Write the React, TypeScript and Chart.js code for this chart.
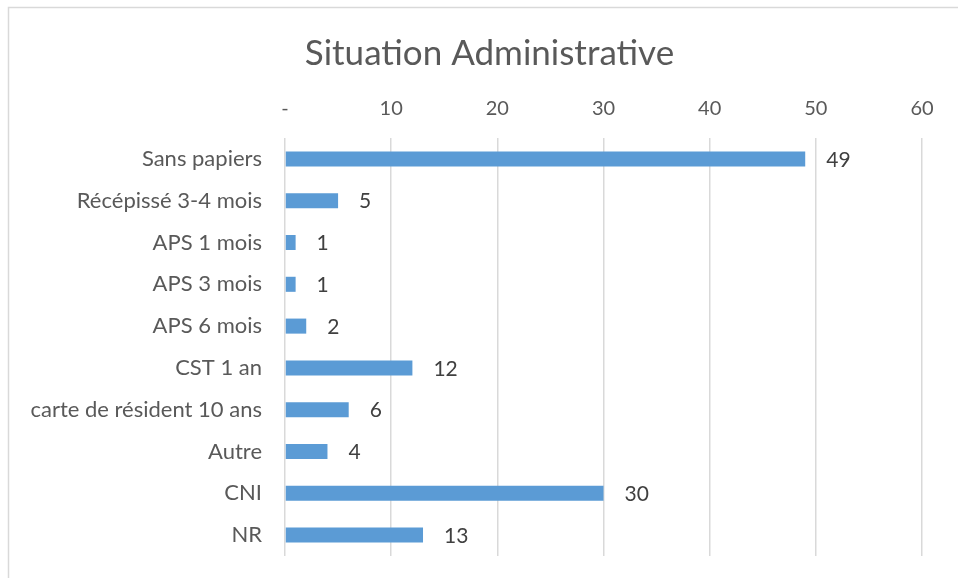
import React, { useEffect, useRef } from 'react';
import { Chart, registerables } from 'chart.js';

Chart.register(...registerables);

const categories = [
  'Sans papiers',
  'Récépissé 3-4 mois',
  'APS 1 mois',
  'APS 3 mois',
  'APS 6 mois',
  'CST 1 an',
  'carte de résident 10 ans',
  'Autre',
  'CNI',
  'NR',
];
const values = [49, 5, 1, 1, 2, 12, 6, 4, 30, 13];
const tickLabels = ['-', '10', '20', '30', '40', '50', '60'];
const chartTitle = 'Situation Administrative';

const FONT = 'Lato, "Open Sans", sans-serif';

const framePlugin = {
  id: 'frame',
  afterLayout(chart: any) {
    // centre the title on the full chart frame (which extends past the right edge)
    const t = chart.titleBlock;
    if (t) {
      t.left = 57;
      t.right = 922;
      t.width = t.right - t.left;
    }
  },
  beforeDraw(chart: any) {
    const { ctx, width, height } = chart;
    ctx.save();
    ctx.fillStyle = '#ffffff';
    ctx.fillRect(0, 0, width, height);
    ctx.strokeStyle = '#d9d9d9';
    ctx.lineWidth = 1.5;
    ctx.beginPath();
    ctx.moveTo(8.5, height);
    ctx.lineTo(8.5, 7.5);
    ctx.lineTo(width, 7.5);
    ctx.stroke();
    ctx.restore();
  },
};

const valueLabelPlugin = {
  id: 'valueLabels',
  afterDatasetsDraw(chart: any) {
    const { ctx } = chart;
    const meta = chart.getDatasetMeta(0);
    ctx.save();
    ctx.fillStyle = '#404040';
    ctx.font = `21px ${FONT}`;
    ctx.textAlign = 'left';
    ctx.textBaseline = 'middle';
    meta.data.forEach((bar: any, i: number) => {
      ctx.fillText(String(values[i]), bar.x + 21, bar.y + 1);
    });
    ctx.restore();
  },
};

export default function App() {
  const ref = useRef<HTMLCanvasElement | null>(null);

  useEffect(() => {
    if (!ref.current) return;
    const chart = new Chart(ref.current, {
      type: 'bar',
      data: {
        labels: categories,
        datasets: [
          {
            data: values,
            backgroundColor: '#5B9BD5',
            borderWidth: 0,
            barPercentage: 1,
            categoryPercentage: 0.36,
          },
        ],
      },
      options: {
        indexAxis: 'y',
        responsive: false,
        animation: false,
        layout: { padding: { left: 0, right: 36, top: 0, bottom: 22 } },
        plugins: {
          legend: { display: false },
          tooltip: { enabled: false },
          title: {
            display: true,
            text: chartTitle,
            color: '#595959',
            font: { family: FONT, size: 35, weight: 'normal' },
            padding: { top: 33, bottom: 0 },
          },
        },
        scales: {
          x: {
            position: 'top',
            min: 0,
            max: 60,
            ticks: {
              stepSize: 10,
              color: '#595959',
              font: { family: FONT, size: 20 },
              padding: 17,
              callback: (_v: any, i: number) => tickLabels[i],
            },
            grid: { color: '#d9d9d9', lineWidth: 1.5, drawTicks: false },
            border: { display: false },
            afterFit: (scale: any) => {
              scale.height = 63;
              scale.paddingLeft = 0;
              scale.paddingRight = 0;
            },
          },
          y: {
            ticks: {
              color: '#595959',
              font: { family: FONT, size: 22 },
              padding: 23,
            },
            grid: { display: false, drawTicks: false },
            border: { display: false },
            afterFit: (scale: any) => {
              scale.width = 285;
              scale.paddingTop = 0;
              scale.paddingBottom = 0;
            },
          },
        },
      },
      plugins: [framePlugin, valueLabelPlugin],
    });
    return () => chart.destroy();
  }, []);

  return (
    <div style={{ position: 'fixed', left: 0, top: 0, width: 958, height: 578 }}>
      <canvas ref={ref} width={958} height={578} style={{ display: 'block' }} />
    </div>
  );
}
